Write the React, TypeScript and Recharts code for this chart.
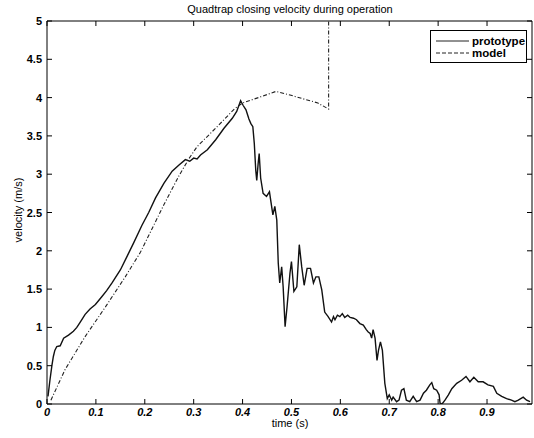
import { Legend, Line, LineChart, ReferenceArea, XAxis, YAxis } from "recharts";

const protoTime = [
  0.002, 0.006, 0.01, 0.013, 0.016, 0.02, 0.027, 0.034, 0.044, 0.054, 0.061, 0.068, 0.078, 0.088, 0.099,
  0.112, 0.122, 0.133, 0.15, 0.164, 0.177, 0.194, 0.208, 0.222, 0.239, 0.256, 0.27, 0.283, 0.292, 0.3,
  0.307, 0.314, 0.328, 0.345, 0.362, 0.379, 0.388, 0.396, 0.401, 0.407, 0.413, 0.417, 0.421, 0.424,
  0.427, 0.429, 0.432, 0.434, 0.437, 0.442, 0.449, 0.455, 0.462, 0.466, 0.47, 0.473, 0.476, 0.48,
  0.483, 0.487, 0.491, 0.497, 0.5, 0.505, 0.511, 0.516, 0.521, 0.526, 0.532, 0.539, 0.545, 0.55,
  0.556, 0.562, 0.568, 0.575, 0.582, 0.586, 0.589, 0.594, 0.599, 0.604, 0.609, 0.615, 0.62, 0.627,
  0.633, 0.64, 0.647, 0.653, 0.657, 0.661, 0.664, 0.667, 0.671, 0.675, 0.678, 0.682, 0.686, 0.691,
  0.696, 0.7, 0.705, 0.708, 0.715, 0.72, 0.725, 0.73, 0.735, 0.742, 0.749, 0.756, 0.763, 0.77, 0.776,
  0.783, 0.787, 0.791, 0.797, 0.802, 0.804, 0.808, 0.814, 0.821, 0.828, 0.838, 0.848, 0.857, 0.865,
  0.873, 0.882, 0.892, 0.902, 0.913, 0.92, 0.93, 0.94, 0.95, 0.957, 0.964, 0.974, 0.981, 0.988,
];
const protoVelocity = [
  0.1, 0.31, 0.5, 0.62, 0.7, 0.75, 0.76, 0.86, 0.9, 0.95, 1.0, 1.07, 1.17, 1.24, 1.3,
  1.4, 1.48, 1.58, 1.75, 1.93, 2.1, 2.33, 2.5, 2.69, 2.88, 3.04, 3.12, 3.19, 3.17, 3.21,
  3.2, 3.25, 3.32, 3.45, 3.6, 3.73, 3.82, 3.96, 3.9, 3.84, 3.72, 3.66, 3.62, 3.4,
  3.05, 2.92, 3.15, 3.27, 2.95, 2.75, 2.71, 2.77, 2.47, 2.58, 2.4, 1.84, 1.58, 1.79,
  1.53, 1.01, 1.27, 1.71, 1.86, 1.47, 1.53, 2.08, 1.79, 1.55, 1.77, 1.77, 1.58, 1.66,
  1.66, 1.49, 1.2, 1.14, 1.07, 1.14, 1.1, 1.16, 1.14, 1.18, 1.13, 1.16, 1.13, 1.12,
  1.1, 1.05, 1.03, 0.97, 0.94, 0.92, 0.86, 0.97, 0.86, 0.57, 0.7, 0.81, 0.7, 0.27,
  0.07, 0.12, 0.05, 0.09, 0.03, 0.05, 0.18, 0.2, 0.05, 0.03, 0.1, 0.03, 0.05, 0.14, 0.18,
  0.25, 0.28, 0.2, 0.18, 0.12, 0.01, 0.0, 0.05, 0.12, 0.2, 0.27, 0.31, 0.36, 0.29,
  0.35, 0.29, 0.29, 0.25, 0.23, 0.14, 0.1, 0.07, 0.05, 0.03, 0.05, 0.09, 0.05, 0.03,
];

const modelTime = [
  0.008, 0.037, 0.078, 0.123, 0.16, 0.191, 0.239, 0.27, 0.29, 0.307, 0.348, 0.383, 0.4, 0.437,
  0.468, 0.499, 0.526, 0.554, 0.576, 0.576,
];
const modelVelocity = [
  0.05, 0.45, 0.88, 1.3, 1.66, 1.98, 2.6, 2.98, 3.2, 3.36, 3.62, 3.85, 3.93, 4.01,
  4.08, 4.03, 3.98, 3.93, 3.85, 5.6,
];

const xTicks = [0, 0.1, 0.2, 0.3, 0.4, 0.5, 0.6, 0.7, 0.8, 0.9];
const yTicks = [0, 0.5, 1, 1.5, 2, 2.5, 3, 3.5, 4, 4.5, 5];

const prototype = protoTime.map((t, i) => ({ t, v: protoVelocity[i] }));
const model = modelTime.map((t, i) => ({ t, v: modelVelocity[i] }));

const font = "'Liberation Sans', Arial, sans-serif";
const X_MAX = 0.992;
const PLOT_W = 485;
const PLOT_H = 383;
const TICK = 5;

// MATLAB-style ticks: pointing inward, mirrored on the opposite side of the box
const XTick = ({ x, y, payload }: any) => (
  <g>
    <line x1={x} y1={y} x2={x} y2={y - TICK} stroke="#000" />
    <line x1={x} y1={y - PLOT_H} x2={x} y2={y - PLOT_H + TICK} stroke="#000" />
    <text
      x={x}
      y={y + 12}
      textAnchor="middle"
      fill="#000"
      fontSize={11}
      fontWeight="bold"
      fontStyle="italic"
      fontFamily={font}
    >
      {payload.value}
    </text>
  </g>
);

const YTick = ({ x, y, payload }: any) => (
  <g>
    <line x1={x} y1={y} x2={x + TICK} y2={y} stroke="#000" />
    <line x1={x + PLOT_W} y1={y} x2={x + PLOT_W - TICK} y2={y} stroke="#000" />
    <text x={x - 5} y={y + 4} textAnchor="end" fill="#000" fontSize={11} fontWeight="bold" fontFamily={font}>
      {payload.value}
    </text>
  </g>
);

const legendItems = [
  { name: "prototype", dash: undefined },
  { name: "model", dash: "4 2" },
];

const renderLegend = () => (
  <div
    style={{
      width: 95,
      height: 31,
      border: "1px solid #000",
      background: "#fff",
      fontFamily: font,
      fontSize: 11.5,
      fontWeight: "bold",
      color: "#000",
    }}
  >
    {legendItems.map((item, i) => (
      <div key={item.name} style={{ display: "flex", alignItems: "center", height: 12, marginTop: i === 0 ? 4 : 0 }}>
        <svg width={40} height={12}>
          <line x1={5} y1={6} x2={38} y2={6} stroke="#222" strokeWidth={1} strokeDasharray={item.dash} />
        </svg>
        <span style={{ marginLeft: 1 }}>{item.name}</span>
      </div>
    ))}
  </div>
);

const labelStyle = {
  position: "absolute" as const,
  whiteSpace: "nowrap" as const,
  fontFamily: font,
  fontSize: 11,
  color: "#000",
};

export default function App() {
  return (
    <div style={{ position: "absolute", left: 0, top: 0, width: 534, height: 438, background: "#fff" }}>
      <LineChart width={534} height={438} margin={{ top: 21, right: 2, bottom: 0, left: 0 }}>
        <XAxis
          type="number"
          dataKey="t"
          domain={[0, X_MAX]}
          ticks={xTicks}
          allowDataOverflow
          height={34}
          tickSize={0}
          tickMargin={0}
          tickLine={false}
          axisLine={false}
          tick={<XTick />}
        />
        <YAxis
          type="number"
          domain={[0, 5]}
          ticks={yTicks}
          allowDataOverflow
          width={47}
          tickSize={0}
          tickMargin={0}
          tickLine={false}
          axisLine={false}
          tick={<YTick />}
        />
        <ReferenceArea x1={0} x2={X_MAX} y1={0} y2={5} fill="none" stroke="#000" strokeWidth={1} fillOpacity={0} />
        <Legend
          content={renderLegend}
          layout="vertical"
          verticalAlign="middle"
          align="center"
          wrapperStyle={{ position: "absolute", top: 30, left: 430, width: 97 }}
        />
        <Line
          name="prototype"
          data={prototype}
          dataKey="v"
          type="linear"
          stroke="#111"
          strokeWidth={1.4}
          dot={false}
          isAnimationActive={false}
        />
        <Line
          name="model"
          data={model}
          dataKey="v"
          type="linear"
          stroke="#222"
          strokeWidth={1.1}
          strokeDasharray="4 2 1 2"
          dot={false}
          isAnimationActive={false}
        />
      </LineChart>
      <div style={{ ...labelStyle, left: 290, top: 3, transform: "translateX(-50%)" }}>
        Quadtrap closing velocity during operation
      </div>
      <div style={{ ...labelStyle, left: 290, top: 417, transform: "translateX(-50%)" }}>time (s)</div>
      <div style={{ ...labelStyle, left: 18, top: 210, transform: "translate(-50%, -50%) rotate(-90deg)" }}>
        velocity (m/s)
      </div>
    </div>
  );
}
